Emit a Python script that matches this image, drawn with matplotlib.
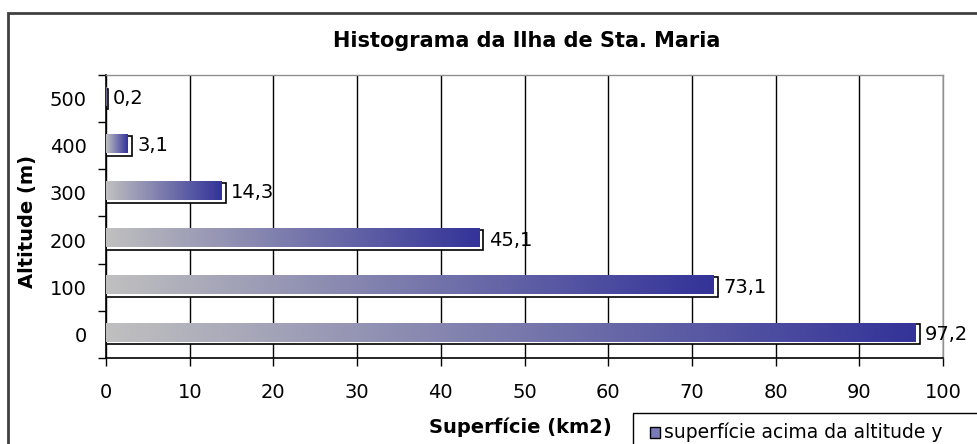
import numpy as np
import matplotlib
matplotlib.use('Agg')
import matplotlib.pyplot as plt
from matplotlib.patches import Rectangle
from matplotlib.colors import to_rgb

altitudes = ['0', '100', '200', '300', '400', '500']
superficie = [97.2, 73.1, 45.1, 14.3, 3.1, 0.2]
value_labels = ['97,2', '73,1', '45,1', '14,3', '3,1', '0,2']
x_ticks = [0, 10, 20, 30, 40, 50, 60, 70, 80, 90, 100]

title = 'Histograma da Ilha de Sta. Maria'
x_title = 'Superfície (km2)'
y_title = 'Altitude (m)'
legend_label = 'superfície acima da altitude y'

plt.rcParams['font.family'] = ['DejaVu Sans']

W, H = 977, 444
fig = plt.figure(figsize=(W / 100, H / 100), dpi=100)
fig.patch.set_facecolor('white')

ax = fig.add_axes([106 / W, 1 - 358 / H, (943 - 106) / W, (358 - 75) / H])

gray = np.array(to_rgb('#c0c0c0'))
navy = np.array(to_rgb('#333399'))
t = np.linspace(0, 1, 256)[:, None]
grad = (gray * (1 - t) + navy * t)[None, :, :]

bar_h = 0.425
ypos = np.arange(len(altitudes))

# outline box (white, black border) then the shaded bar slightly up/left
ax.barh(ypos, superficie, height=bar_h, color='white', edgecolor='black',
        linewidth=1.2, zorder=2)
for y, v in zip(ypos, superficie):
    x1 = max(v - 0.5, 0.05)
    ax.imshow(grad, extent=[0, x1, y - bar_h / 2 + 0.06, y + bar_h / 2 + 0.02],
              aspect='auto', interpolation='bilinear', zorder=3)

for y, v, lab in zip(ypos, superficie, value_labels):
    ax.annotate(lab, (v, y), xytext=(4, 0), textcoords='offset points',
                ha='left', va='center', fontsize=14, zorder=4)

ax.set_xlim(0, 100)
ax.set_ylim(-0.5, len(altitudes) - 0.5)

ax.set_xticks(x_ticks)
ax.set_xticklabels([str(v) for v in x_ticks], fontsize=14)
ax.tick_params(axis='x', direction='out', length=6, width=1, pad=12)
ax.xaxis.grid(True, color='black', linewidth=1)
ax.set_axisbelow(True)

ax.set_yticks(ypos)
ax.set_yticklabels(altitudes, fontsize=14)
ax.tick_params(axis='y', which='major', length=0, pad=14)
ax.set_yticks(np.arange(-0.5, len(altitudes)), minor=True)
ax.tick_params(axis='y', which='minor', direction='out', length=6, width=1)

for s in ['left', 'bottom']:
    ax.spines[s].set_color('black')
    ax.spines[s].set_linewidth(1.2)
for s in ['top', 'right']:
    ax.spines[s].set_color('#909090')
    ax.spines[s].set_linewidth(1)

fig.text(527 / W, 1 - 41 / H, title, ha='center', va='center',
         fontsize=15, fontweight='bold')
fig.text(520 / W, 1 - 427 / H, x_title, ha='center', va='center',
         fontsize=14, fontweight='bold')
fig.text(27 / W, 1 - 221 / H, y_title, ha='center', va='center',
         fontsize=14, fontweight='bold', rotation=90)

# chart area frame, cut by the image edges
fig.patches.append(Rectangle((8 / W, -0.2), 1.2, 1.2 - 13 / H,
                             transform=fig.transFigure, fill=False,
                             edgecolor='#404040', linewidth=2))

# legend box, also cut at the right and bottom
fig.patches.append(Rectangle((633 / W, -0.2), 0.8, 0.2 + 1 - 413 / H,
                             transform=fig.transFigure, facecolor='white',
                             edgecolor='black', linewidth=1))
fig.patches.append(Rectangle((650 / W, 1 - 438 / H), 10 / W, 11 / H,
                             transform=fig.transFigure, facecolor='#7a7ab8',
                             edgecolor='black', linewidth=1))
fig.text(664 / W, 1 - 432 / H, legend_label, ha='left', va='center',
         fontsize=13.5)

fig.savefig('out.png', dpi=100)
